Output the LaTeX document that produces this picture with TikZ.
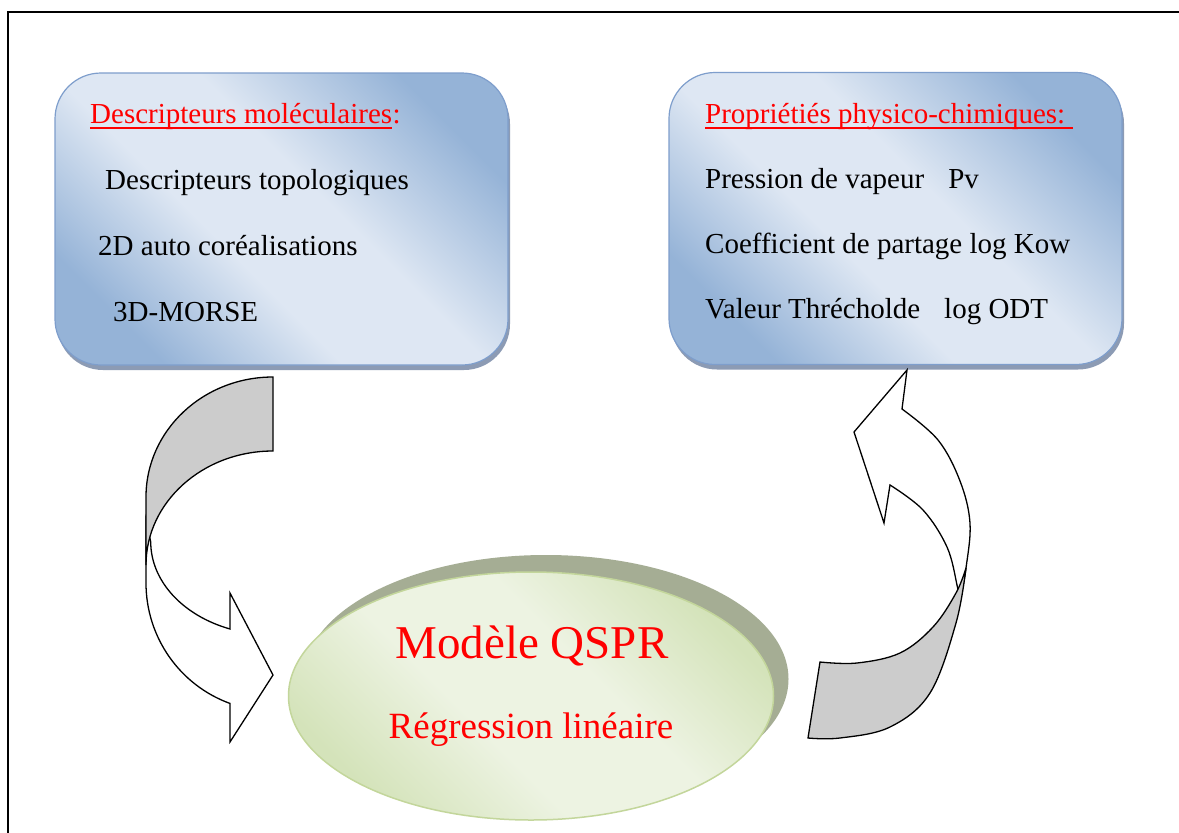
\documentclass[tikz,border=0pt]{standalone}
\usepackage{fontspec}
\setmainfont{Liberation Serif}
\usetikzlibrary{shapes.geometric,shadows}
\definecolor{bD}{RGB}{149,179,215}
\definecolor{bL}{RGB}{222,231,243}
\definecolor{boxborder}{RGB}{126,158,204}
\definecolor{boxshadow}{RGB}{140,155,180}
\definecolor{gD}{RGB}{212,227,186}
\definecolor{gL}{RGB}{237,243,226}
\definecolor{gborder}{RGB}{195,214,155}
\definecolor{gshadow}{RGB}{165,173,148}
\definecolor{arrowgrey}{RGB}{204,204,204}
\definecolor{pured}{RGB}{255,0,0}
\pgfdeclareverticalshading{bluediag}{100bp}{color(0bp)=(bD); color(25bp)=(bD); color(42bp)=(bL); color(56bp)=(bL); color(75bp)=(bD); color(100bp)=(bD)}
\pgfdeclareverticalshading{greendiag}{100bp}{color(0bp)=(gD); color(25bp)=(gD); color(42bp)=(gL); color(58bp)=(gL); color(75bp)=(gD); color(100bp)=(gD)}
\tikzset{
  bluebox/.style={rounded corners=46pt, draw=boxborder, line width=1.2pt,
    shading=bluediag, shading angle=-45,
    minimum width=453pt, minimum height=292pt, inner sep=0pt,
    drop shadow={shadow xshift=2pt, shadow yshift=-5pt, fill=boxshadow, opacity=1}},
  greenell/.style={ellipse, draw=gborder, line width=1.5pt,
    shading=greendiag, shading angle=-45,
    minimum width=485pt, minimum height=248pt, inner sep=0pt,
    drop shadow={shadow xshift=15pt, shadow yshift=17pt, fill=gshadow, opacity=1}},
  txt/.style={anchor=base west, inner sep=0pt, font=\fontsize{29}{34}\selectfont},
  ttl/.style={txt, text=pured},
  ultl/.style={draw=pured, line width=1.3pt},
  front/.style={draw=black, fill=white, line width=1.3pt, line join=miter},
  back/.style={draw=black, fill=arrowgrey, line width=1.3pt, line join=miter},
  frame/.style={draw=black, line width=1.8pt},
}
\begin{document}
\begin{tikzpicture}[x=1pt,y=-1pt]
\useasboundingbox (0,0) rectangle (1179,833);
\fill[white] (0,0) rectangle (1179,833);
\draw[frame] (8,833) -- (8,12) -- (1179,12);

% boxes
\node[bluebox] (box1) at (281.5,219) {};
\node[bluebox] (box2) at (895.5,218.5) {};

% left box text
\node[ttl] (t1) at (90,123) {Descripteurs moléculaires};
\node[ttl, anchor=base west] (t1c) at (t1.base east) {:};
\draw[ultl] ([yshift=-5pt]t1.base west) -- ([yshift=-5pt]t1.base east);
\node[txt] (l1) at (105,189) {Descripteurs topologiques};
\node[txt] (l2) at (98,255) {2D auto coréalisations};
\node[txt] (l3) at (113,321) {3D-MORSE};

% right box text
\node[ttl] (t2) at (705,123) {Propriétiés physico-chimiques:};
\draw[ultl] ([yshift=-5pt]t2.base west) -- ([xshift=8pt,yshift=-5pt]t2.base east);
\node[txt] (r1) at (705,188) {Pression de vapeur\hspace{24pt}Pv};
\node[txt] (r2) at (705,253) {Coefficient de partage log Kow};
\node[txt] (r3) at (705,318) {Valeur Thrécholde\hspace{24pt}log ODT};

% ellipse
\node[greenell] (model) at (531,696) {};
\node[anchor=base, inner sep=0pt, text=pured, font=\fontsize{47}{52}\selectfont] (m1) at (532,658) {Modèle QSPR};
\node[anchor=base, inner sep=0pt, text=pured, font=\fontsize{37}{42}\selectfont] (m2) at (531,738) {Régression linéaire};

% left curved arrow (front part, then back band)
\path[front] (146,520) -- (146,583)
  arc[start angle=180, end angle=109.8, x radius=127, y radius=128]
  -- (230,742) -- (273,675) -- (230,593) -- (230,629)
  arc[start angle=110.5, end angle=180, x radius=122, y radius=93]
  -- cycle;
\path[back] (273,377)
  arc[start angle=270, end angle=180, x radius=127, y radius=120]
  -- (146,565)
  arc[start angle=180, end angle=270, x radius=127, y radius=114]
  -- cycle;

% right curved arrow
\path[front] plot[smooth, tension=0.6] coordinates {(960,600) (966,568) (970,523) (960,481) (938,440) (902,409)}
  -- (907,370) -- (854,432) -- (884,523) -- (890,485)
  -- plot[smooth, tension=0.6] coordinates {(890,485) (923,510) (947,547) (957,585) (958,595)}
  -- cycle;
\path[back] (820,662) -- (808,738)
  -- plot[smooth, tension=0.6] coordinates {(808,738) (840,738) (890,727) (930,693) (956,623) (966,568)}
  -- plot[smooth, tension=0.6] coordinates {(966,568) (956,593) (933,627) (900,653) (857,663) (820,662)}
  -- cycle;
\end{tikzpicture}
\end{document}
